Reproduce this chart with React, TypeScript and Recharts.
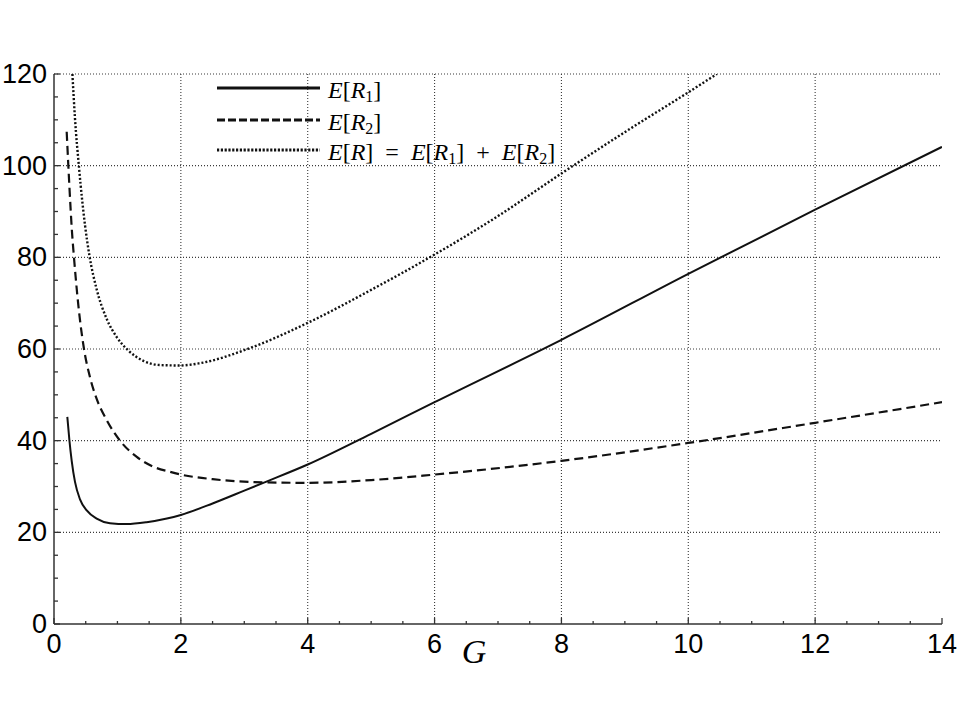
import React from 'react';
import { LineChart, Line, XAxis, YAxis, CartesianGrid, Legend } from 'recharts';

// ---- axis ticks ----
const xMajorTicks = [0, 2, 4, 6, 8, 10, 12, 14];
const xAllTicks = [0, 0.5, 1, 1.5, 2, 2.5, 3, 3.5, 4, 4.5, 5, 5.5, 6, 6.5, 7, 7.5, 8, 8.5, 9, 9.5, 10, 10.5, 11, 11.5, 12, 12.5, 13, 13.5, 14];
const yMajorTicks = [0, 20, 40, 60, 80, 100, 120];
const yAllTicks = [0, 5, 10, 15, 20, 25, 30, 35, 40, 45, 50, 55, 60, 65, 70, 75, 80, 85, 90, 95, 100, 105, 110, 115, 120];
const xGridValues = [2, 4, 6, 8, 10, 12];
const yGridValues = [20, 40, 60, 80, 100, 120];

// ---- series (G, value) ----
const eR1Points = [
  [0.21, 45.2], [0.242, 40.2], [0.279, 35.6], [0.331, 31.0], [0.41, 27.2], [0.516, 24.8],
  [0.673, 23.0], [0.883, 22.0], [1.147, 21.8], [1.46, 22.2], [1.78, 23.0], [2.0, 23.8],
  [2.5, 26.3], [3.0, 29.1], [3.3, 30.8], [4, 34.8], [5, 41.5], [6, 48.4], [8, 62.0],
  [10, 76.4], [12, 90.4], [14, 104.1],
];
const eR2Points = [
  [0.2, 107.4], [0.226, 100], [0.263, 90.3], [0.279, 86.5], [0.315, 80], [0.384, 69.5],
  [0.473, 60], [0.568, 53.8], [0.673, 49.1], [0.83, 44.5], [1.04, 40], [1.3, 36.5],
  [1.57, 34.3], [1.83, 33.2], [2.0, 32.6], [2.5, 31.6], [3.3, 30.9], [4, 30.8],
  [5, 31.4], [6, 32.6], [8, 35.6], [10, 39.5], [12, 43.9], [14, 48.4],
];
const eRPoints = [
  [0.29, 120], [0.33, 110.5], [0.395, 99.5], [0.489, 87], [0.557, 80.5], [0.673, 73],
  [0.83, 66.6], [0.989, 62.6], [1.17, 59.7], [1.41, 57.4], [1.67, 56.5], [1.99, 56.4],
  [2.3, 56.9], [3.07, 60.1], [4, 65.7], [5, 72.9], [6, 80.6], [7, 89.0], [8, 98.3],
  [9.1, 108.2], [10, 116], [10.45, 120],
];

const seriesNames = ['E[R1]', 'E[R2]', 'E[R]'];

type Tok = { t: string; i?: boolean; sub?: boolean };
const legendLabels: Record<string, Tok[]> = {
  'E[R1]': [{ t: 'E', i: true }, { t: '[' }, { t: 'R', i: true }, { t: '1', sub: true }, { t: ']' }],
  'E[R2]': [{ t: 'E', i: true }, { t: '[' }, { t: 'R', i: true }, { t: '2', sub: true }, { t: ']' }],
  'E[R]': [
    { t: 'E', i: true }, { t: '[' }, { t: 'R', i: true }, { t: ']' }, { t: '  =  ' },
    { t: 'E', i: true }, { t: '[' }, { t: 'R', i: true }, { t: '1', sub: true }, { t: ']' }, { t: '  +  ' },
    { t: 'E', i: true }, { t: '[' }, { t: 'R', i: true }, { t: '2', sub: true }, { t: ']' },
  ],
};
const legendDash: Record<string, string | undefined> = {
  'E[R1]': undefined,
  'E[R2]': '8 3',
  'E[R]': '2.2 1.6',
};

const toData = (pts: number[][]) => pts.map(([g, v]) => ({ g, v }));
const eR1Data = toData(eR1Points);
const eR2Data = toData(eR2Points);
const eRData = toData(eRPoints);

const INK = '#111';
const AXIS = '#333';
const TICK_FONT = "'Liberation Sans', Arial, sans-serif";
const MATH_FONT = "'Liberation Serif', 'Times New Roman', serif";

const XTick = (props: any) => {
  const { x, y, payload } = props;
  const major = xMajorTicks.includes(payload.value);
  return (
    <g>
      <line x1={x} x2={x} y1={y} y2={y - (major ? 6 : 3)} stroke={AXIS} strokeWidth={1.3} />
      {major && (
        <text x={x} y={y + 29} textAnchor="middle" fontFamily={TICK_FONT} fontSize={27} fill="#000">
          {payload.value}
        </text>
      )}
    </g>
  );
};

const YTick = (props: any) => {
  const { x, y, payload } = props;
  const major = yMajorTicks.includes(payload.value);
  return (
    <g>
      <line x1={x} x2={x + (major ? 6 : 4)} y1={y} y2={y} stroke={AXIS} strokeWidth={1.3} />
      {major && (
        <text x={x - 7} y={y + 9} textAnchor="end" fontFamily={TICK_FONT} fontSize={27} fill="#000">
          {payload.value}
        </text>
      )}
    </g>
  );
};

const renderGLabel = (props: any) => {
  const vb = props.viewBox || {};
  const x = vb.x + vb.width * (420 / 888);
  const y = vb.y + 39;
  return (
    <text x={x} y={y} textAnchor="middle" fontFamily={MATH_FONT} fontStyle="italic" fontSize={34} fill="#000">
      G
    </text>
  );
};

const renderTokens = (toks: Tok[]) =>
  toks.map((k, idx) => (
    <tspan
      key={idx}
      fontStyle={k.i ? 'italic' : 'normal'}
      fontSize={k.sub ? 16 : 24}
      dy={k.sub ? 4 : idx > 0 && toks[idx - 1].sub ? -4 : 0}
    >
      {k.t}
    </tspan>
  ));

const LegendContent = (props: any) => {
  const payload = props.payload || [];
  const rowY = [14, 46, 76];
  return (
    <svg width={380} height={92} style={{ display: 'block', overflow: 'visible' }}>
      {payload.map((entry: any, i: number) => {
        const name = entry.value as string;
        const yy = rowY[i] ?? 14 + i * 31;
        return (
          <g key={name}>
            <line x1={0} x2={103} y1={yy} y2={yy} stroke={INK} strokeWidth={3.2} strokeDasharray={legendDash[name]} />
            <text x={111} y={yy + 10} fontFamily={MATH_FONT} fontSize={24} fill="#000" style={{ whiteSpace: 'pre' }}>
              {renderTokens(legendLabels[name] || [{ t: name }])}
            </text>
          </g>
        );
      })}
    </svg>
  );
};

export default function App() {
  return (
    <div style={{ position: 'absolute', left: 0, top: 8, width: 960, height: 700, background: '#fff' }}>
      <LineChart width={960} height={700} margin={{ top: 66, right: 18, bottom: 40, left: 0 }}>
        <CartesianGrid
          horizontal
          vertical
          verticalValues={xGridValues}
          horizontalValues={yGridValues}
          stroke="#3a3a3a"
          strokeWidth={1.1}
          strokeDasharray="1 2"
        />
        <XAxis
          dataKey="g"
          type="number"
          domain={[0, 14]}
          ticks={xAllTicks}
          interval={0}
          tickSize={0}
          tickMargin={0}
          tickLine={false}
          tick={<XTick />}
          axisLine={{ stroke: AXIS, strokeWidth: 1.5 }}
          height={44}
          allowDataOverflow
          label={renderGLabel}
        />
        <YAxis
          type="number"
          domain={[0, 120]}
          ticks={yAllTicks}
          interval={0}
          tickSize={0}
          tickMargin={0}
          tickLine={false}
          tick={<YTick />}
          axisLine={{ stroke: AXIS, strokeWidth: 1.5 }}
          width={54}
          allowDataOverflow
        />
        <Legend
          layout="vertical"
          align="center"
          verticalAlign="middle"
          content={<LegendContent />}
          wrapperStyle={{ left: 217, top: 66, width: 380, height: 92 }}
        />
        <Line name={seriesNames[0]} data={eR1Data} dataKey="v" type="monotone" stroke={INK} strokeWidth={2} dot={false} isAnimationActive={false} />
        <Line name={seriesNames[1]} data={eR2Data} dataKey="v" type="monotone" stroke={INK} strokeWidth={2.2} strokeDasharray="9 5" dot={false} isAnimationActive={false} />
        <Line name={seriesNames[2]} data={eRData} dataKey="v" type="monotone" stroke={INK} strokeWidth={2.4} strokeDasharray="2 2" dot={false} isAnimationActive={false} />
      </LineChart>
    </div>
  );
}
